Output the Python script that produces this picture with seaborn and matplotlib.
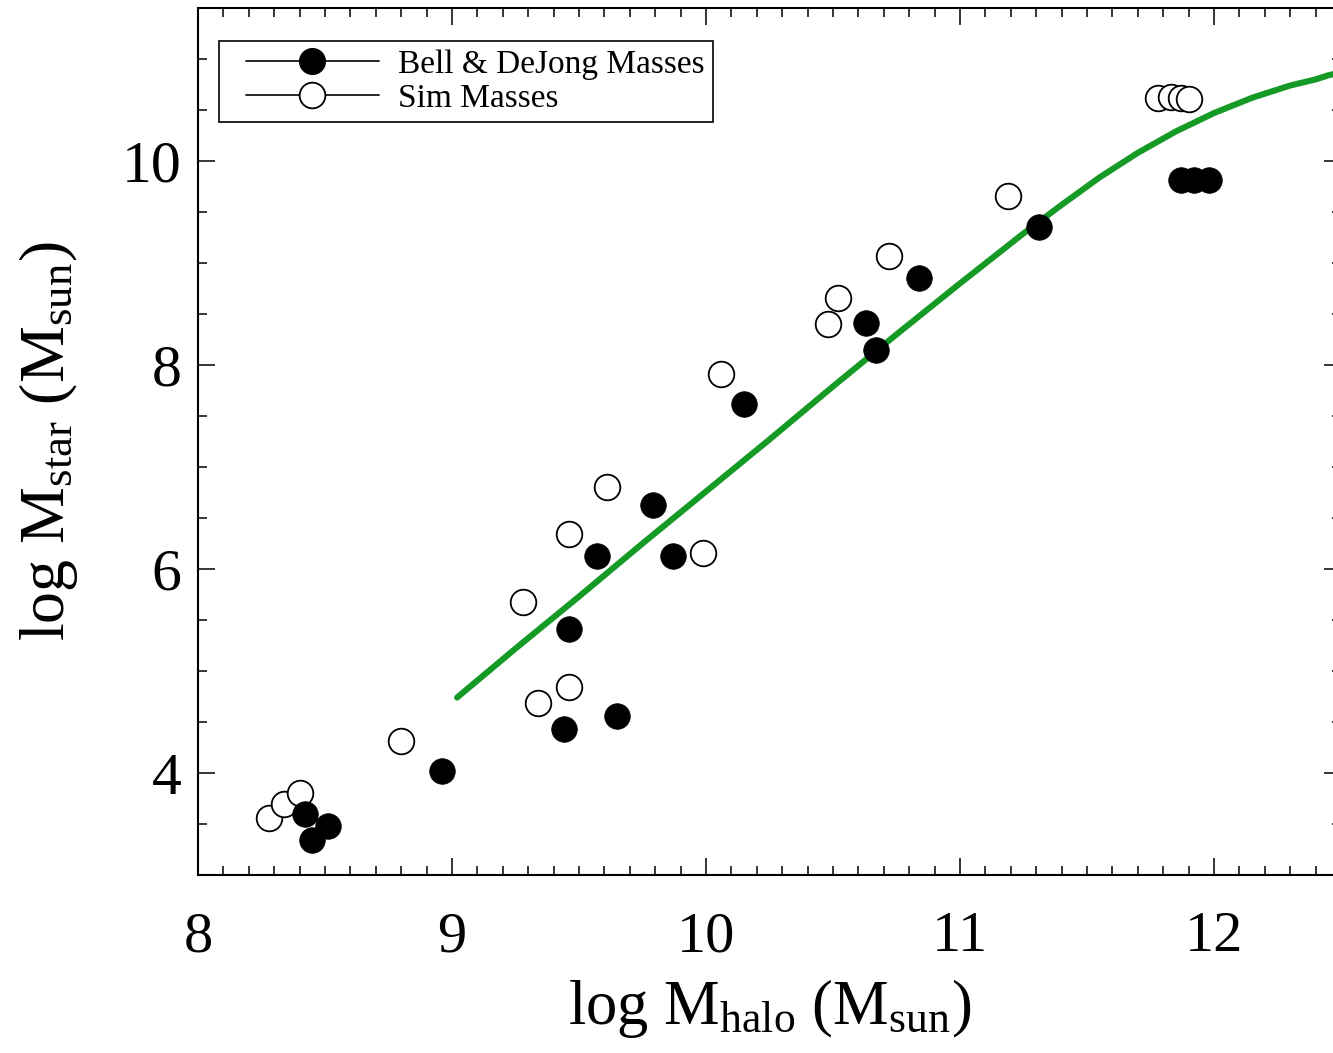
import numpy as np
import pandas as pd
import matplotlib
matplotlib.use("Agg")
import matplotlib.pyplot as plt
from matplotlib.lines import Line2D
from matplotlib.legend_handler import HandlerLine2D
from matplotlib.ticker import MultipleLocator
import seaborn as sns

# Bell & DeJong stellar masses (filled symbols)
bell_halo = [8.42, 8.51, 8.45, 8.96, 9.44, 9.65, 9.46, 9.57, 9.87, 9.79,
             10.15, 10.63, 10.67, 10.84, 11.31, 11.87, 11.92, 11.98]
bell_star = [3.60, 3.48, 3.34, 4.02, 4.43, 4.56, 5.41, 6.13, 6.13, 6.63,
             7.62, 8.41, 8.15, 8.85, 9.35, 9.81, 9.81, 9.81]

# Simulation stellar masses (open symbols)
sim_halo = [8.28, 8.34, 8.40, 8.80, 9.34, 9.46, 9.28, 9.46, 9.61, 9.99,
            10.06, 10.48, 10.52, 10.72, 11.19, 11.78, 11.83, 11.87, 11.90]
sim_star = [3.56, 3.70, 3.80, 4.31, 4.69, 4.84, 5.68, 6.34, 6.80, 6.16,
            7.91, 8.40, 8.66, 9.07, 9.66, 10.62, 10.63, 10.62, 10.61]

# Abundance-matching relation (green curve)
am_halo = [9.02, 9.25, 9.50, 9.75, 10.00, 10.25, 10.50, 10.75, 11.00,
           11.25, 11.40, 11.50, 11.55, 11.60, 11.65, 11.70, 11.75, 11.80,
           11.85, 11.90, 11.95, 12.00, 12.05, 12.10, 12.15, 12.20, 12.25,
           12.30, 12.35, 12.40, 12.45, 12.50]
am_star = [4.74, 5.22, 5.73, 6.25, 6.76, 7.27, 7.79, 8.30, 8.80,
           9.29, 9.57, 9.75, 9.84, 9.92, 10.00, 10.08, 10.15, 10.22,
           10.29, 10.35, 10.41, 10.47, 10.52, 10.57, 10.62, 10.66, 10.70,
           10.74, 10.77, 10.80, 10.84, 10.87]

legend_labels = ["Bell & DeJong Masses", "Sim Masses"]

sns.set_style("ticks")
plt.rcParams["font.family"] = ["Liberation Serif", "DejaVu Serif"]
plt.rcParams["mathtext.fontset"] = "custom"
plt.rcParams["mathtext.rm"] = "Liberation Serif"
plt.rcParams["mathtext.it"] = "Liberation Serif:italic"
plt.rcParams["text.color"] = "black"
plt.rcParams["axes.labelcolor"] = "black"
plt.rcParams["xtick.color"] = "black"
plt.rcParams["ytick.color"] = "black"

fig = plt.figure(figsize=(13.33, 10.53), dpi=100)
W, H = 1333, 1053
ax = fig.add_axes([198 / W, (H - 875) / H, (1341 - 198) / W, 867 / H])

bell = pd.DataFrame({"halo": bell_halo, "star": bell_star})
sim = pd.DataFrame({"halo": sim_halo, "star": sim_star})
am = pd.DataFrame({"halo": am_halo, "star": am_star})

sns.lineplot(data=am, x="halo", y="star", ax=ax, color="#169a26",
             linewidth=4.4, sort=False, zorder=2)
sns.scatterplot(data=sim, x="halo", y="star", ax=ax, s=340,
                facecolor="white", edgecolor="black", linewidth=1.3, zorder=3)
sns.scatterplot(data=bell, x="halo", y="star", ax=ax, s=340,
                color="black", edgecolor="black", linewidth=0.5, zorder=4)

ax.set_xlim(8, 12.5)
ax.set_ylim(3, 11.5)
ax.xaxis.set_major_locator(MultipleLocator(1))
ax.xaxis.set_minor_locator(MultipleLocator(0.1))
ax.yaxis.set_major_locator(MultipleLocator(2))
ax.yaxis.set_minor_locator(MultipleLocator(0.5))
ax.tick_params(which="both", direction="in", top=True, right=True,
               width=1.1, colors="black", labelcolor="black")
ax.tick_params(which="major", length=12)
ax.tick_params(which="minor", length=6.5)
ax.tick_params(axis="x", which="major", labelsize=42, pad=26)
ax.tick_params(axis="y", which="major", labelsize=43, pad=12)
for sp in ax.spines.values():
    sp.set_linewidth(1.5)
    sp.set_color("black")

ax.set_xlabel(r"log M$_{\rm halo}$ (M$_{\rm sun}$)", fontsize=45,
              labelpad=10, color="black")
ax.set_ylabel(r"log M$_{\rm star}$ (M$_{\rm sun}$)", fontsize=46,
              labelpad=30, color="black")

handles = [
    Line2D([0], [0], color="black", linewidth=1.2, marker="o",
           markersize=18.5, markerfacecolor="black", markeredgecolor="black"),
    Line2D([0], [0], color="black", linewidth=1.2, marker="o",
           markersize=18.5, markerfacecolor="white", markeredgecolor="black",
           markeredgewidth=1.3),
]
leg = ax.legend(handles, legend_labels, loc="upper left",
                bbox_to_anchor=(21 / 1143, 1 - 33 / 867), fontsize=24,
                frameon=True, fancybox=False, framealpha=1, handlelength=4.55,
                handletextpad=0.58, labelspacing=0.1, borderpad=0.25,
                borderaxespad=0,
                handler_map={Line2D: HandlerLine2D(xpad=0.55)})
leg.get_frame().set_edgecolor("black")
leg.get_frame().set_linewidth(1.2)
for t in leg.get_texts():
    t.set_color("black")

fig.savefig("out.png", dpi=100)
